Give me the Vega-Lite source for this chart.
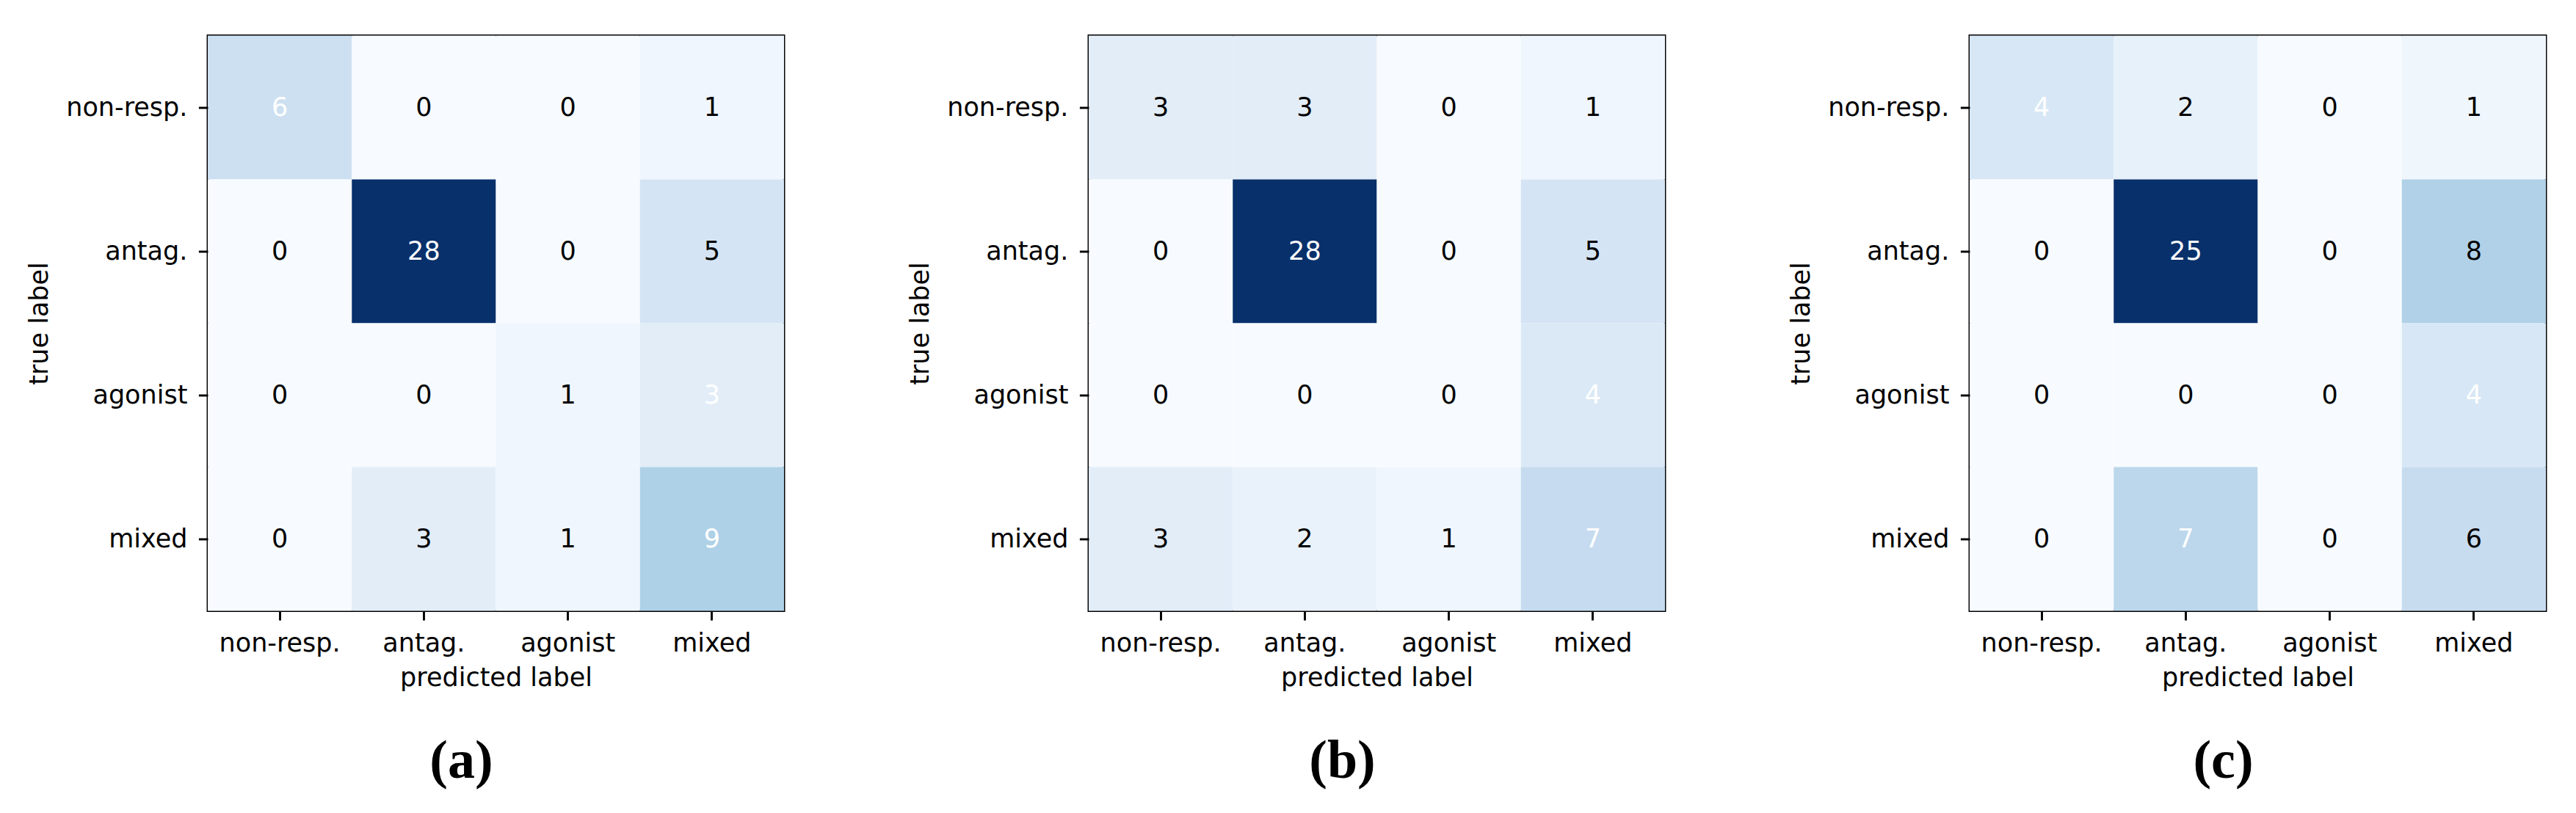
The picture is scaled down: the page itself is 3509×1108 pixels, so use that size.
{
  "$schema": "https://vega.github.io/schema/vega-lite/v6.json",
  "background": "white",
  "padding": {"left": 34, "top": 46.5, "right": 0, "bottom": 0},
  "bounds": "flush",
  "spacing": 415,
  "resolve": {"scale": {"color": "independent"}},
  "datasets": {
    "a": [
      {"actual": "non-resp.", "predicted": "non-resp.", "count": 6},
      {"actual": "non-resp.", "predicted": "antag.", "count": 0},
      {"actual": "non-resp.", "predicted": "agonist", "count": 0},
      {"actual": "non-resp.", "predicted": "mixed", "count": 1},
      {"actual": "antag.", "predicted": "non-resp.", "count": 0},
      {"actual": "antag.", "predicted": "antag.", "count": 28},
      {"actual": "antag.", "predicted": "agonist", "count": 0},
      {"actual": "antag.", "predicted": "mixed", "count": 5},
      {"actual": "agonist", "predicted": "non-resp.", "count": 0},
      {"actual": "agonist", "predicted": "antag.", "count": 0},
      {"actual": "agonist", "predicted": "agonist", "count": 1},
      {"actual": "agonist", "predicted": "mixed", "count": 3},
      {"actual": "mixed", "predicted": "non-resp.", "count": 0},
      {"actual": "mixed", "predicted": "antag.", "count": 3},
      {"actual": "mixed", "predicted": "agonist", "count": 1},
      {"actual": "mixed", "predicted": "mixed", "count": 9}
    ],
    "b": [
      {"actual": "non-resp.", "predicted": "non-resp.", "count": 3},
      {"actual": "non-resp.", "predicted": "antag.", "count": 3},
      {"actual": "non-resp.", "predicted": "agonist", "count": 0},
      {"actual": "non-resp.", "predicted": "mixed", "count": 1},
      {"actual": "antag.", "predicted": "non-resp.", "count": 0},
      {"actual": "antag.", "predicted": "antag.", "count": 28},
      {"actual": "antag.", "predicted": "agonist", "count": 0},
      {"actual": "antag.", "predicted": "mixed", "count": 5},
      {"actual": "agonist", "predicted": "non-resp.", "count": 0},
      {"actual": "agonist", "predicted": "antag.", "count": 0},
      {"actual": "agonist", "predicted": "agonist", "count": 0},
      {"actual": "agonist", "predicted": "mixed", "count": 4},
      {"actual": "mixed", "predicted": "non-resp.", "count": 3},
      {"actual": "mixed", "predicted": "antag.", "count": 2},
      {"actual": "mixed", "predicted": "agonist", "count": 1},
      {"actual": "mixed", "predicted": "mixed", "count": 7}
    ],
    "c": [
      {"actual": "non-resp.", "predicted": "non-resp.", "count": 4},
      {"actual": "non-resp.", "predicted": "antag.", "count": 2},
      {"actual": "non-resp.", "predicted": "agonist", "count": 0},
      {"actual": "non-resp.", "predicted": "mixed", "count": 1},
      {"actual": "antag.", "predicted": "non-resp.", "count": 0},
      {"actual": "antag.", "predicted": "antag.", "count": 25},
      {"actual": "antag.", "predicted": "agonist", "count": 0},
      {"actual": "antag.", "predicted": "mixed", "count": 8},
      {"actual": "agonist", "predicted": "non-resp.", "count": 0},
      {"actual": "agonist", "predicted": "antag.", "count": 0},
      {"actual": "agonist", "predicted": "agonist", "count": 0},
      {"actual": "agonist", "predicted": "mixed", "count": 4},
      {"actual": "mixed", "predicted": "non-resp.", "count": 0},
      {"actual": "mixed", "predicted": "antag.", "count": 7},
      {"actual": "mixed", "predicted": "agonist", "count": 0},
      {"actual": "mixed", "predicted": "mixed", "count": 6}
    ]
  },
  "config": {
    "view": {"stroke": "black", "strokeWidth": 2.9},
    "axis": {
      "domain": false,
      "grid": false,
      "ticks": true,
      "tickColor": "black",
      "tickWidth": 2.9,
      "tickSize": 12.6,
      "labelFont": "DejaVu Sans",
      "labelFontSize": 35,
      "labelColor": "black",
      "labelOverlap": false,
      "titleFont": "DejaVu Sans",
      "titleFontSize": 35,
      "titleFontWeight": "normal",
      "titleColor": "black"
    },
    "axisX": {"labelAngle": 0, "labelPadding": 14, "titleBaseline": "alphabetic", "titleY": 102},
    "axisY": {"labelPadding": 15.5, "titleAngle": 270, "titleBaseline": "alphabetic", "titleX": -219, "titleY": 392},
    "title": {
      "orient": "bottom",
      "anchor": "middle",
      "frame": "group",
      "dx": -47,
      "font": "Liberation Serif",
      "fontWeight": "bold",
      "fontSize": 74,
      "color": "black",
      "offset": 60
    }
  },
  "hconcat": [
    {
      "width": 785,
      "height": 784,
      "data": {"name": "a"},
      "title": {"text": "(a)"},
      "transform": [{"joinaggregate": [{"op": "sum", "field": "count", "as": "rowTotal"}], "groupby": ["actual"]}],
      "encoding": {
        "x": {"field": "predicted", "type": "nominal", "scale": {"domain": ["non-resp.", "antag.", "agonist", "mixed"]}, "axis": {"title": "predicted label"}},
        "y": {"field": "actual", "type": "nominal", "scale": {"domain": ["non-resp.", "antag.", "agonist", "mixed"]}, "axis": {"title": "true label"}}
      },
      "layer": [
        {
          "mark": {"type": "rect"},
          "encoding": {
            "color": {"field": "count", "type": "quantitative", "legend": null,
              "scale": {"domain": [0, 3.5, 7, 10.5, 14, 17.5, 21, 24.5, 28], "range": ["#f7fbff", "#deebf7", "#c6dbef", "#9ecae1", "#6baed6", "#4292c6", "#2171b5", "#08519c", "#08306b"], "interpolate": "rgb"}}
          }
        },
        {
          "mark": {"type": "text", "font": "DejaVu Sans", "fontSize": 35, "baseline": "middle", "align": "center"},
          "encoding": {
            "text": {"field": "count", "type": "quantitative"},
            "color": {"condition": {"test": "datum.count / datum.rowTotal > 0.5", "value": "white"}, "value": "black"}
          }
        }
      ]
    },
    {
      "width": 785,
      "height": 784,
      "data": {"name": "b"},
      "title": {"text": "(b)"},
      "transform": [{"joinaggregate": [{"op": "sum", "field": "count", "as": "rowTotal"}], "groupby": ["actual"]}],
      "encoding": {
        "x": {"field": "predicted", "type": "nominal", "scale": {"domain": ["non-resp.", "antag.", "agonist", "mixed"]}, "axis": {"title": "predicted label"}},
        "y": {"field": "actual", "type": "nominal", "scale": {"domain": ["non-resp.", "antag.", "agonist", "mixed"]}, "axis": {"title": "true label"}}
      },
      "layer": [
        {
          "mark": {"type": "rect"},
          "encoding": {
            "color": {"field": "count", "type": "quantitative", "legend": null,
              "scale": {"domain": [0, 3.5, 7, 10.5, 14, 17.5, 21, 24.5, 28], "range": ["#f7fbff", "#deebf7", "#c6dbef", "#9ecae1", "#6baed6", "#4292c6", "#2171b5", "#08519c", "#08306b"], "interpolate": "rgb"}}
          }
        },
        {
          "mark": {"type": "text", "font": "DejaVu Sans", "fontSize": 35, "baseline": "middle", "align": "center"},
          "encoding": {
            "text": {"field": "count", "type": "quantitative"},
            "color": {"condition": {"test": "datum.count / datum.rowTotal > 0.5", "value": "white"}, "value": "black"}
          }
        }
      ]
    },
    {
      "width": 785,
      "height": 784,
      "data": {"name": "c"},
      "title": {"text": "(c)"},
      "transform": [{"joinaggregate": [{"op": "sum", "field": "count", "as": "rowTotal"}], "groupby": ["actual"]}],
      "encoding": {
        "x": {"field": "predicted", "type": "nominal", "scale": {"domain": ["non-resp.", "antag.", "agonist", "mixed"]}, "axis": {"title": "predicted label"}},
        "y": {"field": "actual", "type": "nominal", "scale": {"domain": ["non-resp.", "antag.", "agonist", "mixed"]}, "axis": {"title": "true label"}}
      },
      "layer": [
        {
          "mark": {"type": "rect"},
          "encoding": {
            "color": {"field": "count", "type": "quantitative", "legend": null,
              "scale": {"domain": [0, 3.125, 6.25, 9.375, 12.5, 15.625, 18.75, 21.875, 25], "range": ["#f7fbff", "#deebf7", "#c6dbef", "#9ecae1", "#6baed6", "#4292c6", "#2171b5", "#08519c", "#08306b"], "interpolate": "rgb"}}
          }
        },
        {
          "mark": {"type": "text", "font": "DejaVu Sans", "fontSize": 35, "baseline": "middle", "align": "center"},
          "encoding": {
            "text": {"field": "count", "type": "quantitative"},
            "color": {"condition": {"test": "datum.count / datum.rowTotal > 0.5", "value": "white"}, "value": "black"}
          }
        }
      ]
    }
  ]
}
